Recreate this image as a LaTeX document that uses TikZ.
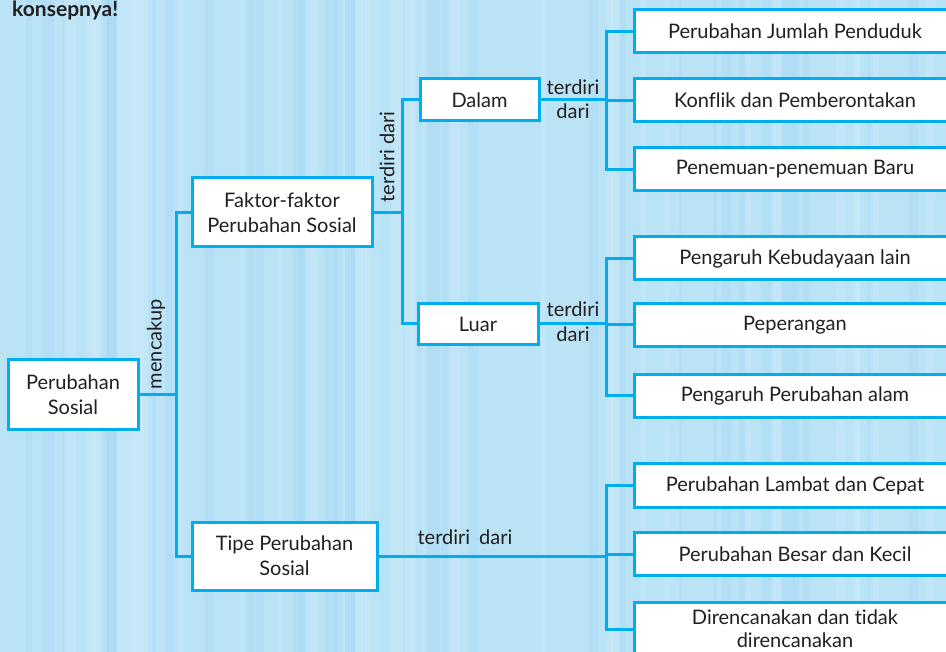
\documentclass[tikz,border=0pt]{standalone}
\usepackage{fontspec}
\setmainfont{Lato}[Ligatures={NoCommon}]
\usetikzlibrary{calc}
\definecolor{cyanline}{RGB}{0,174,239}
\definecolor{bgblue}{RGB}{186,227,246}
\definecolor{bgdark}{RGB}{150,212,242}
\definecolor{bglight}{RGB}{215,239,251}
\definecolor{txt}{RGB}{35,31,32}
\begin{document}
\begin{tikzpicture}[x=1pt,y=-1pt,
  box/.style={draw=cyanline, line width=3pt, fill=white, text=txt, align=center, inner sep=0pt, font=\fontsize{20}{25}\selectfont},
  rbox/.style={box, minimum width=322pt, minimum height=43pt},
  conn/.style={draw=cyanline, line width=3pt},
  lbl/.style={text=txt, inner sep=0pt, font=\fontsize{20}{24}\selectfont}]
\useasboundingbox (0,0) rectangle (946,652);
\clip (0,0) rectangle (946,652);
\fill[bgblue] (0,0) rectangle (946,652);
% soft wood-grain streaks
\pgfmathsetseed{7}
\foreach \i in {1,...,70}{
  \pgfmathsetmacro{\xx}{random(0,946)}
  \pgfmathsetmacro{\ww}{random(3,14)}
  \pgfmathsetmacro{\cc}{random(0,1)}
  \ifdim\cc pt>0.5pt
    \fill[bgdark, opacity=0.22] (\xx,0) rectangle ++(\ww,652);
  \else
    \fill[bglight, opacity=0.3] (\xx,0) rectangle ++(\ww,652);
  \fi
}

% spine coordinates
\coordinate (s1) at (176,0);
\coordinate (s2) at (402,0);
\coordinate (s3) at (606,0);

% boxes
\node[box, minimum width=130pt, minimum height=70pt] (root) at (73,395) {Perubahan\\Sosial};
\node[box, minimum width=180pt, minimum height=69pt] (faktor) at (282,212.5) {Faktor-faktor\\Perubahan Sosial};
\node[box, minimum width=185pt, minimum height=68pt] (tipe) at (284.5,556) {Tipe Perubahan\\Sosial};
\node[box, minimum width=119pt, minimum height=42pt] (dalam) at (479.5,100) {Dalam};
\node[box, minimum width=120pt, minimum height=41pt] (luar) at (478,324) {Luar};

\node[rbox] (r1) at (795,31.5) {Perubahan Jumlah Penduduk};
\node[rbox] (r2) at (795,100.5) {Konflik dan Pemberontakan};
\node[rbox] (r3) at (795,169.5) {Penemuan-penemuan Baru};
\node[rbox] (r4) at (795,258.5) {Pengaruh Kebudayaan lain};
\node[rbox] (r5) at (795,325) {Peperangan};
\node[rbox] (r6) at (795,396) {Pengaruh Perubahan alam};
\node[rbox] (r7) at (795,485.5) {Perubahan Lambat dan Cepat};
\node[rbox] (r8) at (795,554) {Perubahan Besar dan Kecil};
\node[rbox, minimum height=54pt, font=\fontsize{20}{23}\selectfont] (r9) at (795,629) {Direncanakan dan tidak\\direncanakan};

% connectors
\draw[conn] (root.east) -- (root.east -| s1);
\draw[conn] (faktor.west) -| (s1 |- tipe.west) -- (tipe.west);

\draw[conn] (faktor.east) -- (faktor.east -| s2);
\draw[conn] (dalam.west) -| (s2 |- luar.west) -- (luar.west);

\draw[conn] (dalam.east) -- (dalam.east -| s3);
\draw[conn] (r1.west) -| (s3 |- r3.west) -- (r3.west);
\draw[conn] (s3 |- r2.west) -- (r2.west);

\draw[conn] (luar.east) -- (luar.east -| s3);
\draw[conn] (r4.west) -| (s3 |- r6.west) -- (r6.west);
\draw[conn] (s3 |- r5.west) -- (r5.west);

\draw[conn] (tipe.east) -- (tipe.east -| s3);
\draw[conn] (r7.west) -| (s3 |- r9.west) -- (r9.west);
\draw[conn] (s3 |- r8.west) -- (r8.west);

% labels
\node[lbl, rotate=90] (lmenc) at (156,344) {mencakup};
\node[lbl, rotate=90] (lterd1) at (387,157) {terdiri dari};
\node[lbl, anchor=base] (lt2a) at (573,95) {terdiri};
\node[lbl, anchor=base] (lt2b) at (573,119) {dari};
\node[lbl, anchor=base] (lt3a) at (573,317) {terdiri};
\node[lbl, anchor=base] (lt3b) at (573,342) {dari};
\node[lbl, anchor=base] (lt4) at (465,544) {terdiri\hspace{0.45em}dari};

\node[lbl, anchor=base west, font=\fontsize{21}{25}\selectfont\bfseries] (konsep) at (12,17) {konsepnya!};
\end{tikzpicture}
\end{document}
